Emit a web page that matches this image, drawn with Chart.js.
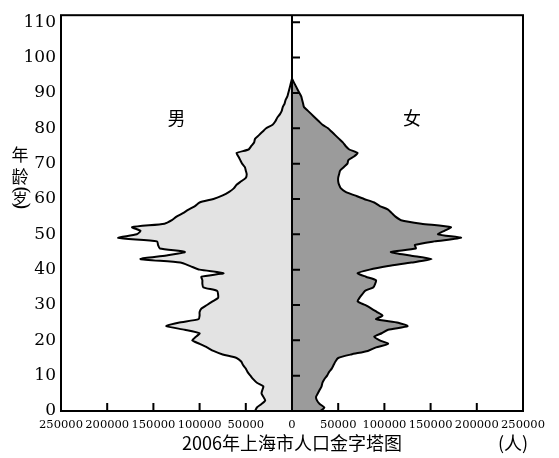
<!DOCTYPE html>
<html>
<head>
<meta charset="utf-8">
<script src="https://cdn.jsdelivr.net/npm/chart.js@4"></script>
<style>
  html, body { margin: 0; padding: 0; background: #fff; }
  #wrap { width: 559px; height: 458px; }
</style>
</head>
<body>
<div id="wrap"><canvas id="pyramid"></canvas></div>
<script>
// 年龄 0-94 岁
const ages = [];
for (let a = 0; a <= 94; a++) ages.push(a);

// 男性人口 (人), 按年龄
const male = [
  40000, 38000, 33000, 29000, 31000, 33000, 32000, 31000, 38000, 42000,
  45000, 48000, 50000, 53000, 55000, 60000, 75000, 85000, 92000, 100000,
  108000, 104000, 100000, 116000, 136000, 123000, 101000, 100000, 100000, 98000,
  92000, 86000, 80000, 80000, 81000, 96000, 97000, 97000, 98000, 74000,
  100000, 110000, 121000, 164000, 136000, 116000, 143000, 145000, 146000, 188000,
  168000, 164000, 173000, 138000, 130000, 125000, 118000, 112000, 105000, 100000,
  85000, 75000, 68000, 63000, 60000, 55000, 50000, 49000, 50000, 51000,
  54000, 56000, 58000, 60000, 47000, 44000, 41000, 40000, 36000, 32000,
  28000, 21000, 18000, 16000, 13000, 11000, 10000, 8000, 7000, 5000,
  4000, 3000, 2000, 1000, 0
];

// 女性人口 (人), 按年龄
const female = [
  31000, 35000, 30000, 27000, 26000, 28000, 30000, 32000, 33000, 35000,
  38000, 40000, 43000, 45000, 47000, 50000, 64000, 82000, 91000, 104000,
  95000, 89000, 97000, 104000, 125000, 115000, 91000, 98000, 92000, 86000,
  79000, 71000, 73000, 76000, 79000, 88000, 90000, 91000, 80000, 71000,
  84000, 104000, 129000, 151000, 128000, 107000, 134000, 133000, 154000, 183000,
  158000, 165000, 172000, 140000, 118000, 112000, 108000, 104000, 95000, 89000,
  78000, 68000, 58000, 53000, 51000, 50000, 50000, 51000, 52000, 56000,
  60000, 61000, 67000, 71000, 62000, 58000, 55000, 51000, 47000, 43000,
  39000, 33000, 29000, 25000, 21000, 17000, 13000, 12000, 11000, 10000,
  8000, 6000, 4000, 2000, 0
];

const yTicks = [0, 10, 20, 30, 40, 50, 60, 70, 80, 90, 100, 110];
const xTicks = [-250000, -200000, -150000, -100000, -50000, 0, 50000, 100000, 150000, 200000, 250000];

const serif = "'DejaVu Serif', 'Liberation Serif', serif";
const cjk = "'Noto Sans CJK SC', sans-serif";

// 边框、中轴线、刻度和文字
const decor = {
  id: 'decor',
  afterDatasetsDraw(chart) {
    const { ctx, chartArea: ca, scales: { x, y } } = chart;
    const x0 = x.getPixelForValue(0);
    ctx.save();
    ctx.strokeStyle = '#000';
    ctx.lineWidth = 2;
    ctx.strokeRect(ca.left, ca.top, ca.right - ca.left, ca.bottom - ca.top);

    ctx.beginPath();
    ctx.moveTo(x0, ca.bottom);
    ctx.lineTo(x0, ca.top);
    yTicks.forEach(v => {
      if (v === 0) return;
      const py = y.getPixelForValue(v);
      ctx.moveTo(x0, py);
      ctx.lineTo(x0 + 8, py);
    });
    xTicks.forEach(v => {
      if (v === 0 || Math.abs(v) === 250000) return;
      const px = x.getPixelForValue(v);
      ctx.moveTo(px, ca.bottom);
      ctx.lineTo(px, ca.bottom - 8);
    });
    ctx.stroke();

    ctx.fillStyle = '#000';
    ctx.textAlign = 'center';
    ctx.textBaseline = 'middle';
    ctx.font = '18px ' + cjk;
    ctx.fillText('男', x.getPixelForValue(-125000), y.getPixelForValue(83));
    ctx.fillText('女', x.getPixelForValue(130000), y.getPixelForValue(83));

    // 纵轴标题 (竖排)
    ctx.font = '17px ' + cjk;
    ctx.fillText('年', 20, 155);
    ctx.fillText('龄', 20, 177);
    ctx.font = '15px ' + cjk;
    ctx.fillText('岁', 20, 198);
    ctx.font = '20px ' + serif;
    [['(', 190], [')', 206]].forEach(([c, py]) => {
      ctx.save();
      ctx.translate(20, py);
      ctx.rotate(Math.PI / 2);
      ctx.fillText(c, 0, 0);
      ctx.restore();
    });

    ctx.font = '18px ' + cjk;
    ctx.fillText('2006年上海市人口金字塔图', x0, 443);
    ctx.fillText('(人)', 513, 443);
    ctx.restore();
  }
};

new Chart(document.getElementById('pyramid'), {
  type: 'line',
  data: {
    datasets: [
      {
        label: '男',
        data: ages.map((a, i) => ({ x: -male[i], y: a })),
        borderColor: '#000',
        backgroundColor: '#e3e3e3',
        borderWidth: 2,
        fill: 'origin',
      },
      {
        label: '女',
        data: ages.map((a, i) => ({ x: female[i], y: a })),
        borderColor: '#000',
        backgroundColor: '#9b9b9b',
        borderWidth: 2,
        fill: 'origin',
      },
    ],
  },
  options: {
    indexAxis: 'y',
    responsive: true,
    maintainAspectRatio: false,
    animation: false,
    layout: { padding: { top: 12, right: 36, left: 0, bottom: 0 } },
    elements: {
      point: { radius: 0 },
      line: { tension: 0.2, borderJoinStyle: 'round' },
    },
    plugins: {
      legend: { display: false },
      tooltip: { enabled: false },
    },
    scales: {
      x: {
        type: 'linear',
        min: -250000,
        max: 250000,
        afterBuildTicks: s => { s.ticks = xTicks.map(v => ({ value: v })); },
        afterFit: s => { s.height = 47; },
        grid: { display: false, drawTicks: false },
        border: { display: false },
        ticks: {
          autoSkip: false,
          maxRotation: 0,
          padding: 7,
          color: '#000',
          font: { family: serif, size: 11.5 },
          callback: v => String(Math.abs(v)),
        },
      },
      y: {
        type: 'linear',
        min: 0,
        max: 112,
        afterBuildTicks: s => { s.ticks = yTicks.map(v => ({ value: v })); },
        afterFit: s => { s.width = 61; },
        grid: { display: false, drawTicks: false },
        border: { display: false },
        ticks: {
          padding: 5,
          color: '#000',
          font: { family: serif, size: 17 },
        },
      },
    },
  },
  plugins: [decor],
});
</script>
</body>
</html>
